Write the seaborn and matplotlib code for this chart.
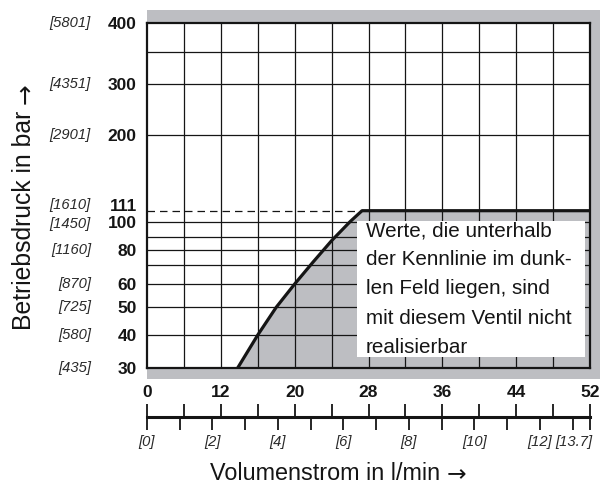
import numpy as np
import matplotlib
matplotlib.use("Agg")
import matplotlib.pyplot as plt
import seaborn as sns
from matplotlib.patches import Rectangle
from matplotlib.text import Annotation
from matplotlib.transforms import ScaledTranslation, blended_transform_factory

# ---------------------------------------------------------------------------
# Data
# ---------------------------------------------------------------------------
# Characteristic curve: max. flow (l/min) vs. operating pressure (bar)
flow_lpm = [13.8, 16, 18, 20, 22, 24, 26, 27.3, 52]
pressure_bar = [30, 40, 50, 60, 72, 87, 100, 111, 111]
pressure_limit = 111

# Pressure axis (bar) with psi equivalents
pressure_ticks = [30, 40, 50, 60, 80, 100, 111, 200, 300, 400]
psi_labels = ["[435]", "[580]", "[725]", "[870]", "[1160]", "[1450]",
              "[1610]", "[2901]", "[4351]", "[5801]"]
pressure_grid = [40, 50, 60, 70, 80, 90, 100, 200, 300, 350]

# Flow axis (l/min) and US gpm equivalents
flow_major = [0, 12, 20, 28, 36, 44, 52]
flow_minor = [6, 16, 24, 32, 40, 48]
flow_grid = [6, 12, 16, 20, 24, 28, 32, 36, 40, 44, 48]
gpm_ticks = [0, 1, 2, 3, 4, 5, 6, 7, 8, 9, 10, 11, 12, 13, 13.7]
gpm_labeled = {0: "[0]", 2: "[2]", 4: "[4]", 6: "[6]", 8: "[8]",
               10: "[10]", 12: "[12]", 13.7: "[13.7]"}

note_lines = ["Werte, die unterhalb", "der Kennlinie im dunk-",
              "len Feld liegen, sind", "mit diesem Ventil nicht",
              "realisierbar"]

x_title = "Volumenstrom in l/min"
y_title = "Betriebsdruck in bar"
arrow = "→"

# ---------------------------------------------------------------------------
# Non-uniform axis scales (piecewise linear)
# ---------------------------------------------------------------------------
def piecewise(src, dst):
    src = np.asarray(src, float)
    dst = np.asarray(dst, float)

    def build(a, b):
        lo_slope = (b[1] - b[0]) / (a[1] - a[0])
        hi_slope = (b[-1] - b[-2]) / (a[-1] - a[-2])

        def f(v):
            v = np.asarray(v, float)
            out = np.interp(v, a, b)
            out = np.where(v < a[0], b[0] + (v - a[0]) * lo_slope, out)
            out = np.where(v > a[-1], b[-1] + (v - a[-1]) * hi_slope, out)
            return out
        return f

    return build(src, dst), build(dst, src)


x_fwd, x_inv = piecewise([0, 12, 52], [0, 2, 12])
y_fwd, y_inv = piecewise(
    [30, 40, 50, 60, 70, 80, 90, 100, 111, 200, 300, 350, 400],
    [0, 33.3, 61, 84.3, 103.3, 118.3, 131.6, 146.6, 157.6, 233.3, 284, 316, 345.6])
gpm_fwd, gpm_inv = piecewise([0, 13, 13.7], [0, 425, 442.3])

# ---------------------------------------------------------------------------
# Styling
# ---------------------------------------------------------------------------
sns.set_theme(style="white")
plt.rcParams["font.family"] = ["Liberation Sans", "DejaVu Sans"]
GRAY = "#bdbec2"
INK = "#151515"
SOFT_INK = "#2a2a2a"

W, H = 600, 486
fig = plt.figure(figsize=(W / 100, H / 100), dpi=100)
fig.patch.set_facecolor("white")


def fx(px):
    return px / W


def fy(px):
    return 1 - px / H


L, R, T, B = 147, 590, 22.7, 368.3
ax = fig.add_axes([fx(L), fy(B), fx(R) - fx(L), fy(T) - fy(B)])
ax.set_facecolor("white")

# grey frame around top, right and bottom of the diagram
fig.add_artist(Rectangle((fx(L), fy(379)), fx(600) - fx(L), fy(10) - fy(379),
                         transform=fig.transFigure, facecolor=GRAY,
                         edgecolor="none", zorder=-1))

ax.set_xscale("function", functions=(x_fwd, x_inv))
ax.set_yscale("function", functions=(y_fwd, y_inv))
ax.set_xlim(0, 52)
ax.set_ylim(30, 400)

# dark field below the characteristic curve
ax.fill_between(flow_lpm, 30, pressure_bar, color=GRAY, lw=0, zorder=1)

# grid
ax.vlines(flow_grid, 30, 400, colors=INK, lw=0.9, zorder=2)
ax.hlines(pressure_grid, 0, 52, colors=INK, lw=0.9, zorder=2)
limit_flow = flow_lpm[pressure_bar.index(pressure_limit)]
ax.hlines(pressure_limit, 0, limit_flow, colors=INK, lw=0.9,
          linestyles=(0, (6, 4)), zorder=2)

for s in ax.spines.values():
    s.set_visible(True)
    s.set_color(INK)
    s.set_linewidth(1.6)
    s.set_zorder(7)

# characteristic curve
sns.lineplot(x=flow_lpm, y=pressure_bar, ax=ax, color=INK, lw=2.3,
             sort=False, errorbar=None, zorder=6)

# note box
ax.add_patch(Rectangle((0.4734, 0.0318), 0.5153, 0.3953, transform=ax.transAxes,
                       facecolor="white", edgecolor="none", zorder=4))
for i, line in enumerate(note_lines):
    y_px = 236 + 29.2 * i
    ax.text(0.4944, (B - y_px) / (B - T), line, transform=ax.transAxes,
            ha="left", va="baseline", fontsize=14.9, color=INK, zorder=5)

# pressure axis labels
ax.tick_params(axis="x", bottom=False, labelbottom=False)
ax.set_yticks(pressure_ticks, labels=[str(v) for v in pressure_ticks])
ax.tick_params(axis="y", left=True, length=0, pad=7.4, labelsize=12.5,
               labelcolor=INK)
ax.yaxis.set_minor_locator(matplotlib.ticker.NullLocator())
for lbl, v in zip(ax.get_yticklabels(), pressure_ticks):
    lbl.set_fontweight("bold")
    if v == pressure_limit:
        lbl.set_transform(lbl.get_transform()
                          + ScaledTranslation(0, 4 / 72, fig.dpi_scale_trans))

blend = blended_transform_factory(ax.transAxes, ax.transData)
for v, lab in zip(pressure_ticks, psi_labels):
    dy = 4 if v == pressure_limit else (-1.5 if v == 100 else 0)
    ax.text(-0.1264, v, lab,
            transform=blend + ScaledTranslation(0, dy / 72, fig.dpi_scale_trans),
            ha="right", va="center", style="italic",
            fontsize=10.6, color=SOFT_INK)

ax.set_xlabel("")
ax.set_ylabel("")

# flow scale below the diagram: l/min on top, gpm underneath
scale_rect = [fx(L), fy(416.7), fx(R) - fx(L), 0.001]
ax_lpm = fig.add_axes(scale_rect)
ax_lpm.patch.set_visible(False)
ax_lpm.set_xscale("function", functions=(x_fwd, x_inv))
ax_lpm.set_xlim(0, 52)
ax_lpm.set_yticks([])
for side in ("left", "right", "top"):
    ax_lpm.spines[side].set_visible(False)
ax_lpm.spines["bottom"].set_visible(True)
ax_lpm.spines["bottom"].set_color(INK)
ax_lpm.spines["bottom"].set_linewidth(2.2)
ax_lpm.xaxis.set_ticks_position("top")
ax_lpm.set_xticks(flow_major, labels=[str(v) for v in flow_major])
ax_lpm.set_xticks(flow_minor, minor=True)
ax_lpm.tick_params(axis="x", which="both", direction="out", length=8.4,
                   width=1.3, color=INK, top=True, bottom=False,
                   labeltop=True, labelbottom=False, pad=3.0,
                   labelsize=12.5, labelcolor=INK)
for lbl in ax_lpm.get_xticklabels():
    lbl.set_fontweight("bold")

ax_gpm = fig.add_axes(scale_rect)
ax_gpm.patch.set_visible(False)
ax_gpm.set_xscale("function", functions=(gpm_fwd, gpm_inv))
ax_gpm.set_xlim(0, 13.7)
ax_gpm.set_yticks([])
for s in ax_gpm.spines.values():
    s.set_visible(False)
ax_gpm.xaxis.set_ticks_position("bottom")
ax_gpm.set_xticks(gpm_ticks, labels=[gpm_labeled.get(v, "") for v in gpm_ticks])
ax_gpm.xaxis.set_minor_locator(matplotlib.ticker.NullLocator())
ax_gpm.tick_params(axis="x", direction="out", length=9.6, width=1.3,
                   color=INK, bottom=True, top=False, labelbottom=True,
                   pad=3.6, labelsize=10.6, labelcolor=SOFT_INK)
for lbl, v in zip(ax_gpm.get_xticklabels(), gpm_ticks):
    lbl.set_fontstyle("italic")
    if v == gpm_ticks[-1]:
        # last label sits flush against the end of the scale
        lbl.set_horizontalalignment("right")
        lbl.set_transform(lbl.get_transform()
                          + ScaledTranslation(2 / 72, 0, fig.dpi_scale_trans))

# axis titles, each followed by a direction arrow
xt = fig.text(fx(210), fy(473), x_title, ha="left", va="center",
              fontsize=16.8, color=INK)
fig.add_artist(Annotation(
    arrow, xy=(1.0, 0.45), xycoords=xt, xytext=(5, 0),
    textcoords="offset points", ha="left", va="center",
    fontsize=16.8, color=INK, family="DejaVu Sans"))

yt = fig.text(fx(24), fy(330), y_title, ha="center", va="bottom",
              rotation=90, fontsize=17.8, color=INK)
fig.add_artist(Annotation(
    arrow, xy=(0.55, 1.0), xycoords=yt, xytext=(0, 5),
    textcoords="offset points", ha="center", va="bottom", rotation=90,
    fontsize=17.8, color=INK, family="DejaVu Sans"))

fig.savefig("out.png", dpi=100)
